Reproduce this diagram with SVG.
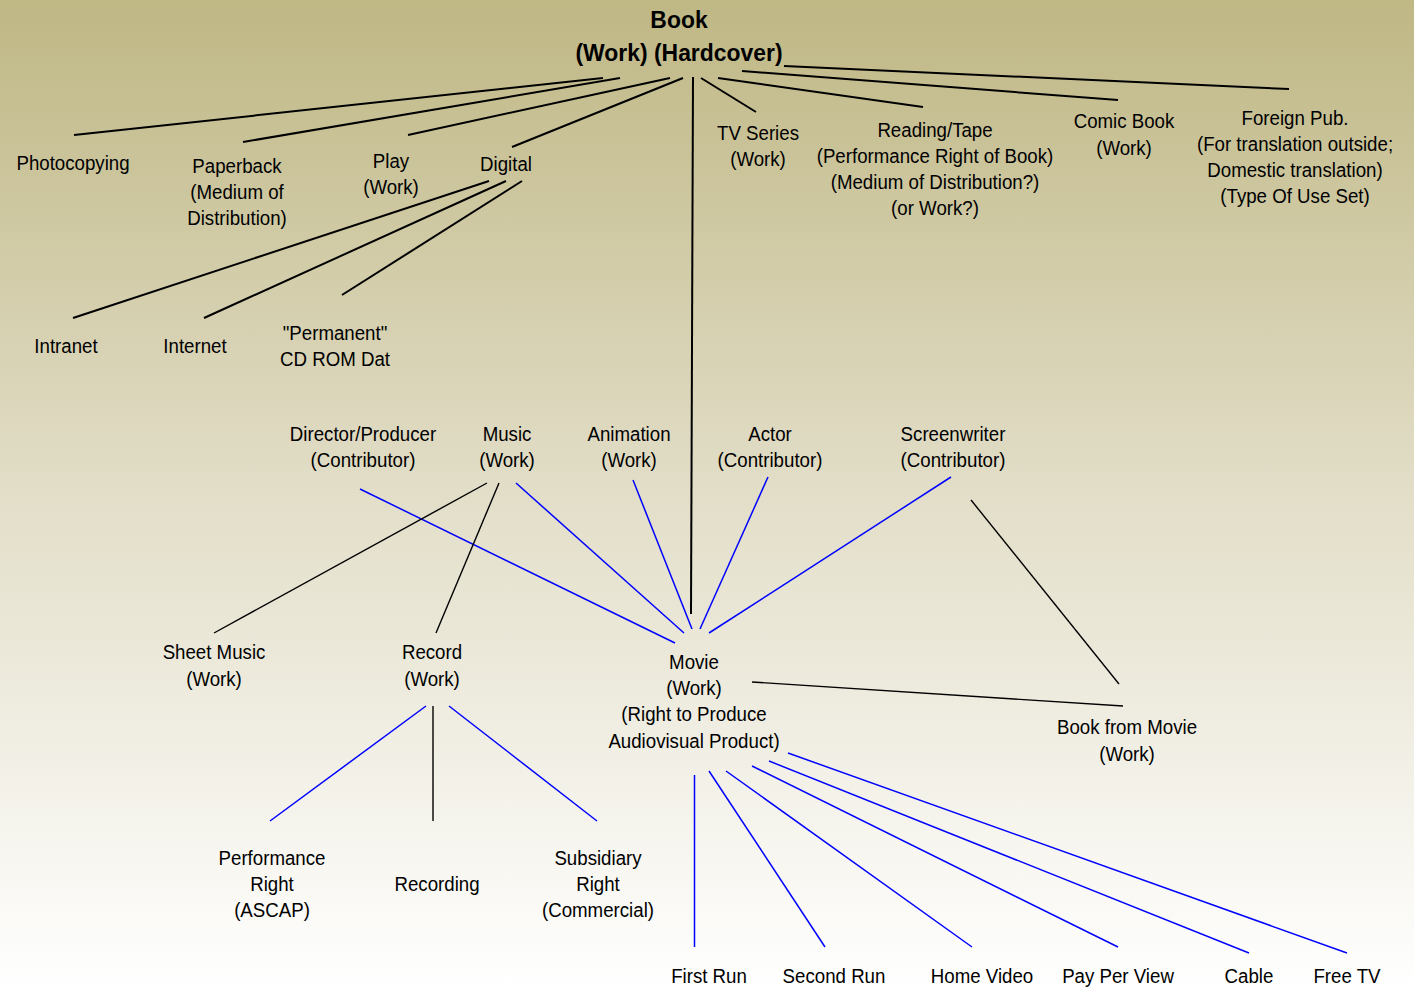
<svg xmlns="http://www.w3.org/2000/svg" width="1414" height="988" viewBox="0 0 1414 988">
<defs>
<linearGradient id="bg" x1="0" y1="0" x2="0" y2="1">
<stop offset="0" stop-color="#BFB784"/>
<stop offset="0.5" stop-color="#E2DEC8"/>
<stop offset="1" stop-color="#FFFFFF"/>
</linearGradient>
<style>
text{font-family:"Liberation Sans",Arial,sans-serif;font-size:21px;fill:#000;text-anchor:middle}
.title text{font-size:24px;font-weight:bold}
.k{stroke:#000;fill:none}
.k2{stroke-width:2}
.k1{stroke-width:1.4}
.b{stroke:#0000FF;stroke-width:1.5;fill:none}
</style>
</defs>
<rect width="1414" height="988" fill="url(#bg)"/>
<g id="connectors">
<line class="k k2" x1="603" y1="78" x2="74" y2="135"/>
<line class="k k2" x1="620" y1="78" x2="243" y2="142"/>
<line class="k k2" x1="670" y1="78" x2="408" y2="135"/>
<line class="k k2" x1="683" y1="78" x2="512" y2="147"/>
<line class="k k2" x1="693" y1="77" x2="691" y2="614"/>
<line class="k k2" x1="701" y1="78" x2="756" y2="112"/>
<line class="k k2" x1="718" y1="78" x2="923" y2="107"/>
<line class="k k2" x1="742" y1="71" x2="1118" y2="100"/>
<line class="k k2" x1="784" y1="66" x2="1289" y2="89"/>
<line class="k k2" x1="489" y1="181" x2="73" y2="318"/>
<line class="k k2" x1="506" y1="181" x2="204" y2="318"/>
<line class="k k2" x1="522" y1="181" x2="342" y2="295"/>
<line class="b" x1="360" y1="489" x2="675" y2="643"/>
<line class="k k1" x1="487" y1="483" x2="214" y2="633"/>
<line class="k k1" x1="499" y1="483" x2="436" y2="633"/>
<line class="b" x1="516" y1="483" x2="684" y2="633"/>
<line class="b" x1="633" y1="480" x2="692" y2="629"/>
<line class="b" x1="768" y1="477" x2="700" y2="629"/>
<line class="b" x1="951" y1="477" x2="709" y2="633"/>
<line class="k k1" x1="971" y1="500" x2="1119" y2="684"/>
<line class="k k1" x1="752" y1="682" x2="1123" y2="706"/>
<line class="b" x1="426" y1="706" x2="270" y2="821"/>
<line class="k k1" x1="433" y1="706" x2="433" y2="821"/>
<line class="b" x1="449" y1="706" x2="597" y2="821"/>
<line class="b" x1="694.5" y1="775" x2="694.5" y2="947"/>
<line class="b" x1="709" y1="771" x2="825" y2="947"/>
<line class="b" x1="726" y1="771" x2="972" y2="947"/>
<line class="b" x1="752" y1="766" x2="1118" y2="947"/>
<line class="b" x1="769" y1="761" x2="1249" y2="953"/>
<line class="b" x1="788" y1="753" x2="1347" y2="953"/>
</g>
<g id="book" class="title" transform="translate(679,0) scale(0.955,1)"><text><tspan x="0" y="28">Book</tspan><tspan x="0" y="61">(Work) (Hardcover)</tspan></text></g>
<g id="photocopying" transform="translate(73,0) scale(0.89,1)"><text><tspan x="0" y="170">Photocopying</tspan></text></g>
<g id="paperback" transform="translate(237,0) scale(0.89,1)"><text><tspan x="0" y="173">Paperback</tspan><tspan x="0" y="199">(Medium of</tspan><tspan x="0" y="225">Distribution)</tspan></text></g>
<g id="play" transform="translate(391,0) scale(0.89,1)"><text><tspan x="0" y="168">Play</tspan><tspan x="0" y="194">(Work)</tspan></text></g>
<g id="digital" transform="translate(506,0) scale(0.89,1)"><text><tspan x="0" y="171">Digital</tspan></text></g>
<g id="tvseries" transform="translate(758,0) scale(0.89,1)"><text><tspan x="0" y="140">TV Series</tspan><tspan x="0" y="166">(Work)</tspan></text></g>
<g id="reading" transform="translate(935,0) scale(0.89,1)"><text><tspan x="0" y="137">Reading/Tape</tspan><tspan x="0" y="163">(Performance Right of Book)</tspan><tspan x="0" y="189">(Medium of Distribution?)</tspan><tspan x="0" y="215">(or Work?)</tspan></text></g>
<g id="comicbook" transform="translate(1124,0) scale(0.89,1)"><text><tspan x="0" y="128">Comic Book</tspan><tspan x="0" y="155">(Work)</tspan></text></g>
<g id="foreign" transform="translate(1295,0) scale(0.89,1)"><text><tspan x="0" y="125">Foreign Pub.</tspan><tspan x="0" y="151">(For translation outside;</tspan><tspan x="0" y="177">Domestic translation)</tspan><tspan x="0" y="203">(Type Of Use Set)</tspan></text></g>
<g id="intranet" transform="translate(66,0) scale(0.89,1)"><text><tspan x="0" y="353">Intranet</tspan></text></g>
<g id="internet" transform="translate(195,0) scale(0.89,1)"><text><tspan x="0" y="353">Internet</tspan></text></g>
<g id="permanent" transform="translate(335,0) scale(0.89,1)"><text><tspan x="0" y="340">"Permanent"</tspan><tspan x="0" y="366">CD ROM Dat</tspan></text></g>
<g id="director" transform="translate(363,0) scale(0.89,1)"><text><tspan x="0" y="441">Director/Producer</tspan><tspan x="0" y="467">(Contributor)</tspan></text></g>
<g id="music" transform="translate(507,0) scale(0.89,1)"><text><tspan x="0" y="441">Music</tspan><tspan x="0" y="467">(Work)</tspan></text></g>
<g id="animation" transform="translate(629,0) scale(0.89,1)"><text><tspan x="0" y="441">Animation</tspan><tspan x="0" y="467">(Work)</tspan></text></g>
<g id="actor" transform="translate(770,0) scale(0.89,1)"><text><tspan x="0" y="441">Actor</tspan><tspan x="0" y="467">(Contributor)</tspan></text></g>
<g id="screenwriter" transform="translate(953,0) scale(0.89,1)"><text><tspan x="0" y="441">Screenwriter</tspan><tspan x="0" y="467">(Contributor)</tspan></text></g>
<g id="sheetmusic" transform="translate(214,0) scale(0.89,1)"><text><tspan x="0" y="659">Sheet Music</tspan><tspan x="0" y="686">(Work)</tspan></text></g>
<g id="record" transform="translate(432,0) scale(0.89,1)"><text><tspan x="0" y="659">Record</tspan><tspan x="0" y="686">(Work)</tspan></text></g>
<g id="movie" transform="translate(694,0) scale(0.89,1)"><text><tspan x="0" y="669">Movie</tspan><tspan x="0" y="695">(Work)</tspan><tspan x="0" y="721">(Right to Produce</tspan><tspan x="0" y="748">Audiovisual Product)</tspan></text></g>
<g id="bookfrommovie" transform="translate(1127,0) scale(0.89,1)"><text><tspan x="0" y="734">Book from Movie</tspan><tspan x="0" y="761">(Work)</tspan></text></g>
<g id="performance" transform="translate(272,0) scale(0.89,1)"><text><tspan x="0" y="865">Performance</tspan><tspan x="0" y="891">Right</tspan><tspan x="0" y="917">(ASCAP)</tspan></text></g>
<g id="recording" transform="translate(437,0) scale(0.89,1)"><text><tspan x="0" y="891">Recording</tspan></text></g>
<g id="subsidiary" transform="translate(598,0) scale(0.89,1)"><text><tspan x="0" y="865">Subsidiary</tspan><tspan x="0" y="891">Right</tspan><tspan x="0" y="917">(Commercial)</tspan></text></g>
<g id="firstrun" transform="translate(709,0) scale(0.89,1)"><text><tspan x="0" y="983">First Run</tspan></text></g>
<g id="secondrun" transform="translate(834,0) scale(0.89,1)"><text><tspan x="0" y="983">Second Run</tspan></text></g>
<g id="homevideo" transform="translate(982,0) scale(0.89,1)"><text><tspan x="0" y="983">Home Video</tspan></text></g>
<g id="payperview" transform="translate(1118,0) scale(0.89,1)"><text><tspan x="0" y="983">Pay Per View</tspan></text></g>
<g id="cable" transform="translate(1249,0) scale(0.89,1)"><text><tspan x="0" y="983">Cable</tspan></text></g>
<g id="freetv" transform="translate(1347,0) scale(0.89,1)"><text><tspan x="0" y="983">Free TV</tspan></text></g>
</svg>
